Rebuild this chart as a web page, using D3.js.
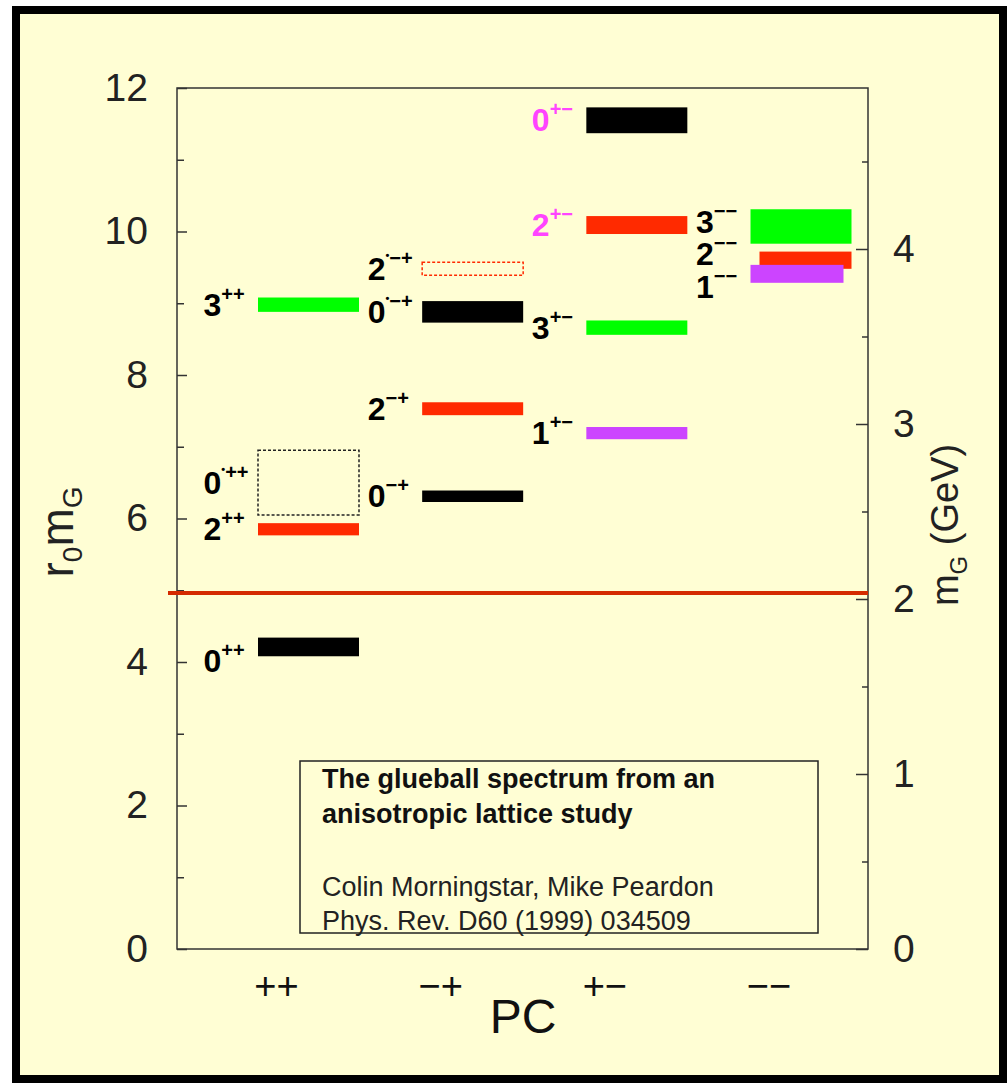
<!DOCTYPE html>
<html>
<head>
<meta charset="utf-8">
<script src="https://d3js.org/d3.v7.min.js"></script>
<style>
body { margin: 0; background: #fff; }
svg text { font-family: "Liberation Sans", Arial, sans-serif; }
</style>
</head>
<body>
<svg width="1007" height="1083"></svg>
<script>
// PC columns along the bottom
var pcLabels = ["++", "\u2212+", "+\u2212", "\u2212\u2212"];

// glueball states: spin J, PC column, starred (excited), r0*mG centre, half error
var stateJ    = ["0", "2", "0", "3",   "0", "2", "0", "2",   "0", "2", "3", "1",   "3", "2", "1"];
var statePC   = [0, 0, 0, 0,   1, 1, 1, 1,   2, 2, 2, 2,   3, 3, 3];
var stateStar = [false, false, true, false,   false, false, true, true,   false, false, false, false,   false, false, false];
var stateMass = [4.21, 5.85, 6.50, 8.98,   6.31, 7.53, 8.88, 9.48,   11.55, 10.09, 8.66, 7.19,   10.07, 9.60, 9.41];
var stateErr  = [0.13, 0.085, 0.45, 0.10,   0.08, 0.09, 0.15, 0.09,   0.18, 0.125, 0.10, 0.085,   0.24, 0.12, 0.125];
// states only shown as outlines
var dashedStates = [2, 7];
// exotic states printed in magenta
var exoticStates = [8, 9];

// axis ticks
var leftMajor = [0, 2, 4, 6, 8, 10, 12];
var leftMinor = [1, 3, 5, 7, 9, 11];
var rightMajor = [0, 1, 2, 3, 4];
var rightMinor = [0.5, 1.5, 2.5, 3.5, 4.5];

// two-glueball threshold line, r0*mG
var threshold = 4.96;

var noteBold = ["The glueball spectrum from an", "anisotropic lattice study"];
var noteText = ["Colin Morningstar, Mike Peardon", "Phys. Rev. D60 (1999) 034509"];

var colorByJ = {"0": "#000000", "1": "#cc44ff", "2": "#ff2a00", "3": "#00ff00"};

var plotL = 177, plotR = 868, plotT = 88, plotB = 949;
var svg = d3.select("svg");

// page frame
svg.append("rect").attr("x", 16).attr("y", 10).attr("width", 987).attr("height", 1069)
   .attr("fill", "#fffed4").attr("stroke", "#000").attr("stroke-width", 8);

var y = d3.scaleLinear().domain([0, 12]).range([plotB, plotT]);
var yGeV = d3.scaleLinear().domain([0, (plotB - plotT) / 175]).range([plotB, plotT]);
var x = d3.scalePoint().domain(d3.range(4)).range([308.5, 801]);

// plot box
svg.append("rect").attr("x", plotL).attr("y", plotT).attr("width", plotR - plotL).attr("height", plotB - plotT)
   .attr("fill", "none").attr("stroke", "#333").attr("stroke-width", 1.5);

function styleAxis(g) {
  g.select(".domain").remove();
  g.selectAll("line").attr("stroke", "#333").attr("stroke-width", 1.5);
  g.selectAll("text").attr("fill", "#222").style("font-size", "39px")
   .style("font-family", "'Liberation Sans', Arial, sans-serif");
}

svg.append("g").attr("transform", "translate(" + plotL + ",0)")
   .call(d3.axisLeft(y).tickValues(leftMajor).tickSize(-10).tickPadding(29)).call(styleAxis);
svg.append("g").attr("transform", "translate(" + plotL + ",0)")
   .call(d3.axisLeft(y).tickValues(leftMinor).tickSize(-7).tickFormat("")).call(styleAxis);
svg.append("g").attr("transform", "translate(" + plotR + ",0)")
   .call(d3.axisRight(yGeV).tickValues(rightMajor).tickSize(-12).tickPadding(25).tickFormat(d3.format("d"))).call(styleAxis);
svg.append("g").attr("transform", "translate(" + plotR + ",0)")
   .call(d3.axisRight(yGeV).tickValues(rightMinor).tickSize(-6).tickFormat("")).call(styleAxis);

// threshold
svg.append("line").attr("x1", 168).attr("x2", plotR).attr("y1", y(threshold)).attr("y2", y(threshold))
   .attr("stroke", "#d42a00").attr("stroke-width", 4);

// bars
var idx = d3.range(stateMass.length);
// small horizontal trims on the crowded -- column
var trim = {13: [9, 0], 14: [0, 8]};
svg.append("g").selectAll("rect").data(idx).enter().append("rect")
   .attr("x", function(i) { return x(statePC[i]) - 50.5 + (trim[i] ? trim[i][0] : 0); })
   .attr("width", function(i) { return 101 - (trim[i] ? trim[i][0] + trim[i][1] : 0); })
   .attr("y", function(i) { return y(stateMass[i] + stateErr[i]); })
   .attr("height", function(i) { return y(stateMass[i] - stateErr[i]) - y(stateMass[i] + stateErr[i]); })
   .attr("fill", function(i) { return dashedStates.indexOf(i) >= 0 ? "none" : colorByJ[stateJ[i]]; })
   .attr("stroke", function(i) { return dashedStates.indexOf(i) >= 0 ? (stateJ[i] == "0" ? "#222" : "#ff2a00") : "none"; })
   .attr("stroke-width", 1.5)
   .attr("stroke-dasharray", function(i) { return dashedStates.indexOf(i) >= 0 ? "3,2" : null; });

// state labels
var labelNudge = {0: 14, 12: -4, 13: -6, 14: 13};
var lab = svg.append("g").selectAll("text").data(idx).enter().append("text")
   .attr("x", function(i) { return x(statePC[i]) - 105; })
   .attr("y", function(i) { return y(stateMass[i]) + 11 + (labelNudge[i] || 0); })
   .attr("fill", function(i) { return exoticStates.indexOf(i) >= 0 ? "#ff44ff" : "#000"; })
   .style("font-weight", "bold").style("font-size", "32px");
lab.append("tspan").text(function(i) { return stateJ[i]; });
lab.each(function(i) {
  var t = d3.select(this);
  if (stateStar[i]) {
    t.append("tspan").attr("dy", -21).style("font-size", "11px").text("\u2022");
    t.append("tspan").attr("dy", 6).style("font-size", "20px").text(pcLabels[statePC[i]]);
  } else {
    t.append("tspan").attr("dy", -15).style("font-size", "20px").text(pcLabels[statePC[i]]);
  }
});

// x category labels
svg.append("g").selectAll("text").data(d3.range(4)).enter().append("text")
   .attr("x", function(d) { return x(d) - 32; }).attr("y", 999)
   .attr("text-anchor", "middle").style("font-size", "38px").attr("fill", "#111")
   .text(function(d) { return pcLabels[d]; });

// axis titles
svg.append("text").attr("x", 523).attr("y", 1033).attr("text-anchor", "middle")
   .style("font-size", "48px").attr("fill", "#111").text("PC");

var yt = svg.append("text").attr("transform", "translate(73,532) rotate(-90)")
   .attr("text-anchor", "middle").style("font-size", "46px").attr("fill", "#222");
yt.append("tspan").text("r");
yt.append("tspan").attr("dy", 9).style("font-size", "28px").text("0");
yt.append("tspan").attr("dy", -9).text("m");
yt.append("tspan").attr("dy", 9).style("font-size", "28px").text("G");

var rt = svg.append("text").attr("transform", "translate(958,525) rotate(-90)")
   .attr("text-anchor", "middle").style("font-size", "38px").attr("fill", "#222");
rt.append("tspan").text("m");
rt.append("tspan").attr("dy", 9).style("font-size", "24px").text("G");
rt.append("tspan").attr("dy", -9).text(" (GeV)");

// reference note
svg.append("rect").attr("x", 300).attr("y", 761).attr("width", 518).attr("height", 172)
   .attr("fill", "none").attr("stroke", "#222").attr("stroke-width", 1.5);
svg.append("g").selectAll("text").data(noteBold).enter().append("text")
   .attr("x", 322).attr("y", function(d, i) { return 788 + i * 35; })
   .style("font-size", "27px").style("font-weight", "bold").attr("fill", "#111").text(function(d) { return d; });
svg.append("g").selectAll("text").data(noteText).enter().append("text")
   .attr("x", 322).attr("y", function(d, i) { return 896 + i * 34; })
   .style("font-size", "27px").attr("fill", "#222").text(function(d) { return d; });
</script>
</body>
</html>
